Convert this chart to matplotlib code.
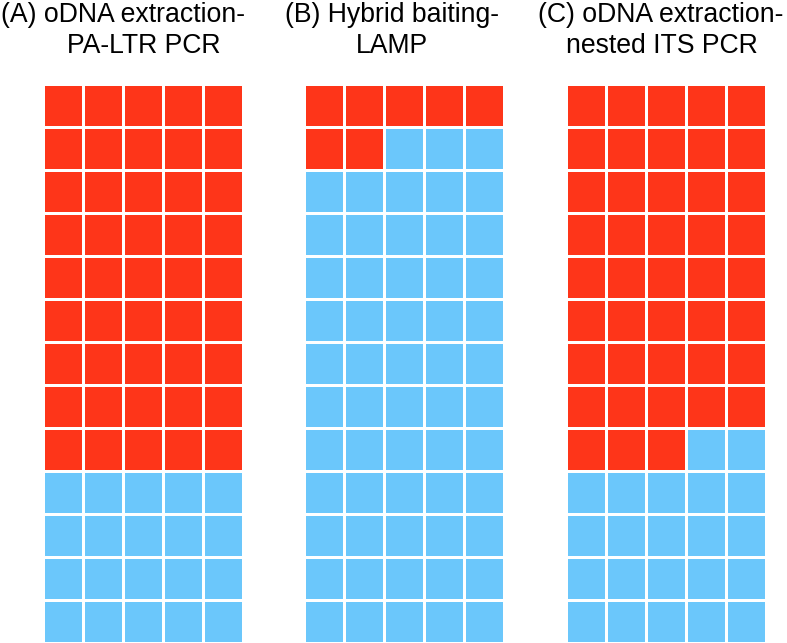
import numpy as np
import matplotlib; matplotlib.use("Agg")
import matplotlib.pyplot as plt
from matplotlib.colors import ListedColormap

# waffle data: 65 samples per assay, 5 columns x 13 rows, filled top-down
titles_l1 = ["(A) oDNA extraction-", "(B) Hybrid baiting-", "(C) oDNA extraction-"]
titles_l2 = ["PA-LTR PCR", "LAMP", "nested ITS PCR"]
positive = [45, 7, 43]
negative = [20, 58, 22]
NCOL, NROW = 5, 13
RED, BLUE = "#FE3519", "#6BC7FB"

plt.rcParams["font.family"] = ["Liberation Sans", "DejaVu Sans"]
W, H = 787, 643
fig = plt.figure(figsize=(W/100, H/100), dpi=100)

lefts = [43, 304, 566]           # px
l1_cx = [123, 392, 661]          # title line centres, px
l2_cx = [144, 392, 662]
grid_top, grid_w = 84, 200

for i in range(3):
    ax = fig.add_axes([lefts[i]/W, 0, grid_w/W, (H-grid_top)/H])
    vals = np.array([1]*positive[i] + [0]*negative[i]).reshape(NROW, NCOL)
    ax.pcolormesh(vals, cmap=ListedColormap([BLUE, RED]), vmin=0, vmax=1,
                  edgecolors="white", linewidth=1.8)
    ax.set_xlim(0, NCOL); ax.set_ylim(NROW, 0)
    ax.axis("off")
    fig.text(l1_cx[i]/W, 1 - 22/H, titles_l1[i], ha="center", va="baseline", fontsize=19.2)
    fig.text(l2_cx[i]/W, 1 - 53/H, titles_l2[i], ha="center", va="baseline", fontsize=19.2)

fig.savefig("out.png", dpi=100, facecolor="white")
